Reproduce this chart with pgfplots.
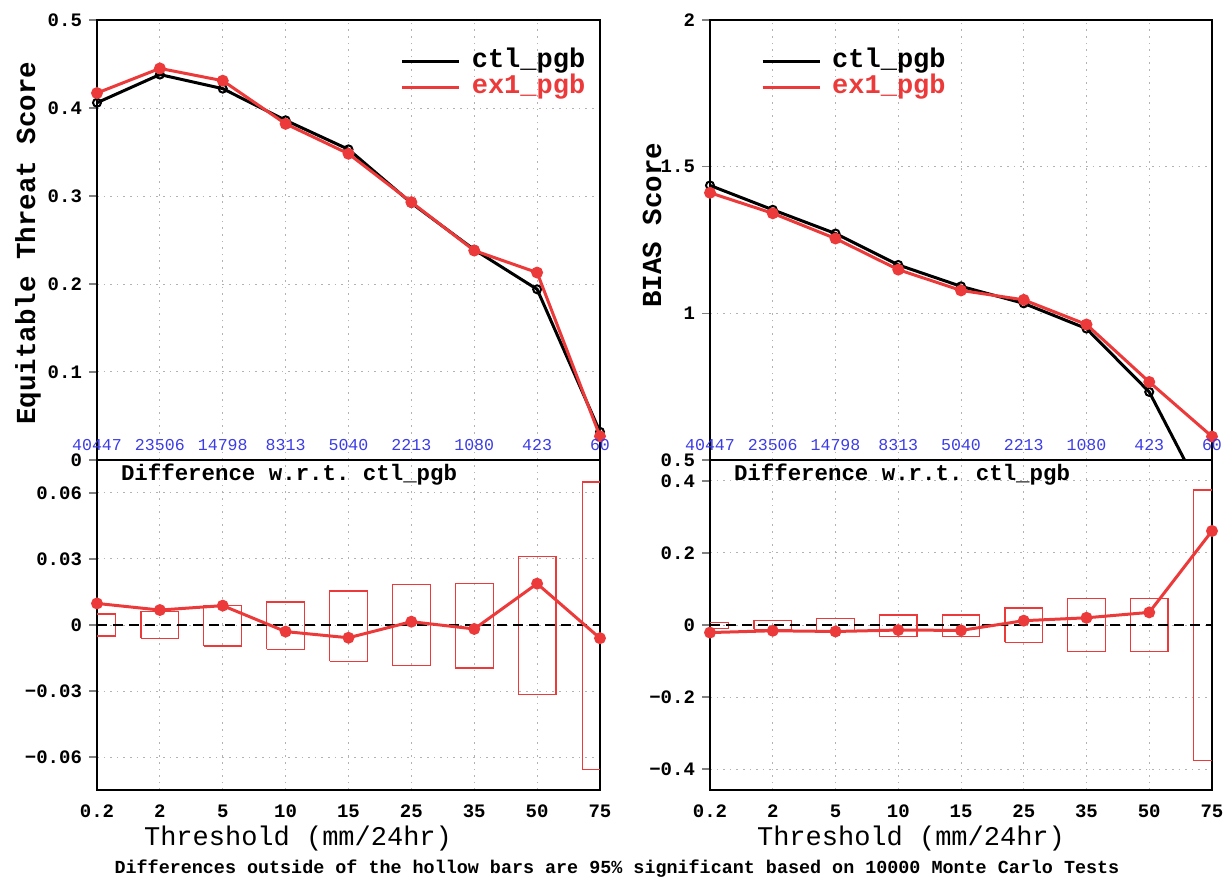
\documentclass[border=0pt]{standalone}
\usepackage{fontspec}
\setmainfont{Liberation Serif}
\setmonofont{Liberation Mono}
\usepackage{pgfplots}
\pgfplotsset{compat=1.18}
\definecolor{rd}{RGB}{236,58,58}
\definecolor{bl}{RGB}{60,60,230}
\newcommand{\fs}[1]{\fontsize{#1}{#1}\selectfont}
\tikzset{
 cnt/.style={font=\ttfamily\fs{8.3}, text=bl, inner sep=0pt},
 dtitle/.style={font=\ttfamily\bfseries\fs{11.2}, anchor=west, inner sep=0pt},
}
\pgfplotsset{
 base/.style={
  scale only axis, width=251.5pt,
  xmin=0, xmax=8, xtick={0,...,8},
  grid=major,
  major grid style={gray!60, line width=0.5pt, dash pattern=on 0.8pt off 2.5pt},
  axis line style={line width=1.4pt},
  tick align=outside, ytick pos=left, xtick pos=bottom,
  major tick length=4pt,
  xtick style={draw=none},
  ytick style={line width=0.7pt},
  scaled y ticks=false,
  yticklabel style={font=\ttfamily\bfseries\fs{9.5}},
  xticklabel style={font=\ttfamily\bfseries\fs{9.5}, yshift=0pt},
  clip mode=individual,
  unbounded coords=jump,
 },
 toppanel/.style={base, height=220pt, xticklabels={}},
 botpanel/.style={base, height=165pt, xticklabels={0.2,2,5,10,15,25,35,50,75}},
 leg/.style={legend style={draw=none, fill=none, at={#1}, anchor=north west, inner sep=0pt, outer sep=0pt,
   font=\ttfamily\bfseries\fs{13.5}, row sep=0pt,
   nodes={inner sep=0pt, text height=9.5pt, text depth=3.5pt, anchor=west},
   /tikz/every odd column/.append style={column sep=5.5pt}},
   legend image code/.code={\draw[##1, line width=1.5pt] (0pt,0pt) -- (28.5pt,0pt);}},
 ctlline/.style={black, line width=1.5pt, mark=o, mark size=2pt, mark options={line width=1pt}},
 exline/.style={rd, line width=1.5pt, mark=*, mark size=2.2pt, mark options={solid}},
 boxes/.style={rd, line width=0.6pt, mark=none},
 zeroline/.style={black, line width=0.9pt, dash pattern=on 5pt off 3pt, mark=none},
}
\begin{document}
\begin{tikzpicture}
\useasboundingbox (0pt,0pt) rectangle (615pt,442pt);
% ---------------- top left: ETS
\begin{axis}[toppanel, at={(48.5pt,212pt)}, anchor=south west,
  ymin=0, ymax=0.5, ytick={0,0.1,0.2,0.3,0.4,0.5}, yticklabels={0,0.1,0.2,0.3,0.4,0.5},
  leg={(0.604,0.936)}]
\addplot[ctlline] coordinates {(0,0.406) (1,0.438) (2,0.422) (3,0.386) (4,0.353) (5,0.292) (6,0.239) (7,0.194) (8,0.032)};
\addlegendentry{ctl\_pgb}
\addplot[exline] coordinates {(0,0.417) (1,0.445) (2,0.431) (3,0.382) (4,0.348) (5,0.293) (6,0.238) (7,0.213) (8,0.027)};
\addlegendentry{\textcolor{rd}{ex1\_pgb}}
\node[cnt] at (axis cs:0,0.017) {40447};
\node[cnt] at (axis cs:1,0.017) {23506};
\node[cnt] at (axis cs:2,0.017) {14798};
\node[cnt] at (axis cs:3,0.017) {8313};
\node[cnt] at (axis cs:4,0.017) {5040};
\node[cnt] at (axis cs:5,0.017) {2213};
\node[cnt] at (axis cs:6,0.017) {1080};
\node[cnt] at (axis cs:7,0.017) {423};
\node[cnt] at (axis cs:8,0.017) {60};
\end{axis}
% ---------------- bottom left: ETS difference
\begin{axis}[botpanel, at={(48.5pt,47pt)}, anchor=south west,
  ymin=-0.075, ymax=0.075, ytick={-0.06,-0.03,0,0.03,0.06}, yticklabels={−0.06,−0.03,0,0.03,0.06}]
\addplot[boxes] coordinates {
 (-0.3,-0.005) (0.3,-0.005) (0.3,0.005) (-0.3,0.005) (-0.3,-0.005) (nan,nan)
 (0.7,-0.006) (1.3,-0.006) (1.3,0.006) (0.7,0.006) (0.7,-0.006) (nan,nan)
 (1.7,-0.0095) (2.3,-0.0095) (2.3,0.009) (1.7,0.009) (1.7,-0.0095) (nan,nan)
 (2.7,-0.011) (3.3,-0.011) (3.3,0.0105) (2.7,0.0105) (2.7,-0.011) (nan,nan)
 (3.7,-0.0165) (4.3,-0.0165) (4.3,0.0155) (3.7,0.0155) (3.7,-0.0165) (nan,nan)
 (4.7,-0.0185) (5.3,-0.0185) (5.3,0.0185) (4.7,0.0185) (4.7,-0.0185) (nan,nan)
 (5.7,-0.0195) (6.3,-0.0195) (6.3,0.019) (5.7,0.019) (5.7,-0.0195) (nan,nan)
 (6.7,-0.0315) (7.3,-0.0315) (7.3,0.031) (6.7,0.031) (6.7,-0.0315) (nan,nan)
 (7.72,-0.0655) (8.3,-0.0655) (8.3,0.065) (7.72,0.065) (7.72,-0.0655)
};
\addplot[zeroline] coordinates {(0,0) (8,0)};
\addplot[exline] coordinates {(0,0.0098) (1,0.0068) (2,0.0088) (3,-0.003) (4,-0.0058) (5,0.0015) (6,-0.0018) (7,0.0188) (8,-0.006)};
\node[dtitle] at (rel axis cs:0.047,0.955) {Difference w.r.t. ctl\_pgb};
\end{axis}
% ---------------- top right: BIAS
\begin{axis}[toppanel, width=251pt, at={(355pt,212pt)}, anchor=south west,
  ymin=0.5, ymax=2, ytick={0.5,1,1.5,2}, yticklabels={0.5,1,1.5,2},
  leg={(0.102,0.936)}]
\addplot[ctlline] coordinates {(0,1.436) (1,1.353) (2,1.272) (3,1.165) (4,1.092) (5,1.034) (6,0.948) (7,0.732) (8,0.32)};
\addlegendentry{ctl\_pgb}
\addplot[exline] coordinates {(0,1.411) (1,1.341) (2,1.255) (3,1.149) (4,1.078) (5,1.046) (6,0.962) (7,0.766) (8,0.580)};
\addlegendentry{\textcolor{rd}{ex1\_pgb}}
\node[cnt] at (axis cs:0,0.551) {40447};
\node[cnt] at (axis cs:1,0.551) {23506};
\node[cnt] at (axis cs:2,0.551) {14798};
\node[cnt] at (axis cs:3,0.551) {8313};
\node[cnt] at (axis cs:4,0.551) {5040};
\node[cnt] at (axis cs:5,0.551) {2213};
\node[cnt] at (axis cs:6,0.551) {1080};
\node[cnt] at (axis cs:7,0.551) {423};
\node[cnt] at (axis cs:8,0.551) {60};
\end{axis}
% ---------------- bottom right: BIAS difference
\begin{axis}[botpanel, width=251pt, at={(355pt,47pt)}, anchor=south west,
  ymin=-0.458, ymax=0.458, ytick={-0.4,-0.2,0,0.2,0.4}, yticklabels={−0.4,−0.2,0,0.2,0.4}]
\addplot[boxes] coordinates {
 (-0.3,-0.010) (0.3,-0.010) (0.3,0.008) (-0.3,0.008) (-0.3,-0.010) (nan,nan)
 (0.7,-0.012) (1.3,-0.012) (1.3,0.013) (0.7,0.013) (0.7,-0.012) (nan,nan)
 (1.7,-0.016) (2.3,-0.016) (2.3,0.017) (1.7,0.017) (1.7,-0.016) (nan,nan)
 (2.7,-0.032) (3.3,-0.032) (3.3,0.028) (2.7,0.028) (2.7,-0.032) (nan,nan)
 (3.7,-0.032) (4.3,-0.032) (4.3,0.028) (3.7,0.028) (3.7,-0.032) (nan,nan)
 (4.7,-0.048) (5.3,-0.048) (5.3,0.047) (4.7,0.047) (4.7,-0.048) (nan,nan)
 (5.7,-0.074) (6.3,-0.074) (6.3,0.073) (5.7,0.073) (5.7,-0.074) (nan,nan)
 (6.7,-0.074) (7.3,-0.074) (7.3,0.073) (6.7,0.073) (6.7,-0.074) (nan,nan)
 (7.7,-0.375) (8.3,-0.375) (8.3,0.375) (7.7,0.375) (7.7,-0.375)
};
\addplot[zeroline] coordinates {(0,0) (8,0)};
\addplot[exline] coordinates {(0,-0.021) (1,-0.016) (2,-0.018) (3,-0.014) (4,-0.015) (5,0.012) (6,0.020) (7,0.035) (8,0.261)};
\node[dtitle] at (rel axis cs:0.047,0.955) {Difference w.r.t. ctl\_pgb};
\end{axis}
% ---------------- labels
\node[rotate=90, font=\ttfamily\bfseries\fs{13.75}] at (14pt,320.5pt) {Equitable Threat Score};
\node[rotate=90, font=\ttfamily\bfseries\fs{13.75}] at (326pt,329.5pt) {BIAS Score};
\node[font=\ttfamily\fs{13.5}] at (149pt,22.5pt) {Threshold (mm/24hr)};
\node[font=\ttfamily\fs{13.5}] at (455.5pt,22.5pt) {Threshold (mm/24hr)};
\node[font=\ttfamily\bfseries\fs{9.2}] at (308.5pt,7.5pt) {Differences outside of the hollow bars are 95\% significant based on 10000 Monte Carlo Tests};
\end{tikzpicture}
\end{document}
